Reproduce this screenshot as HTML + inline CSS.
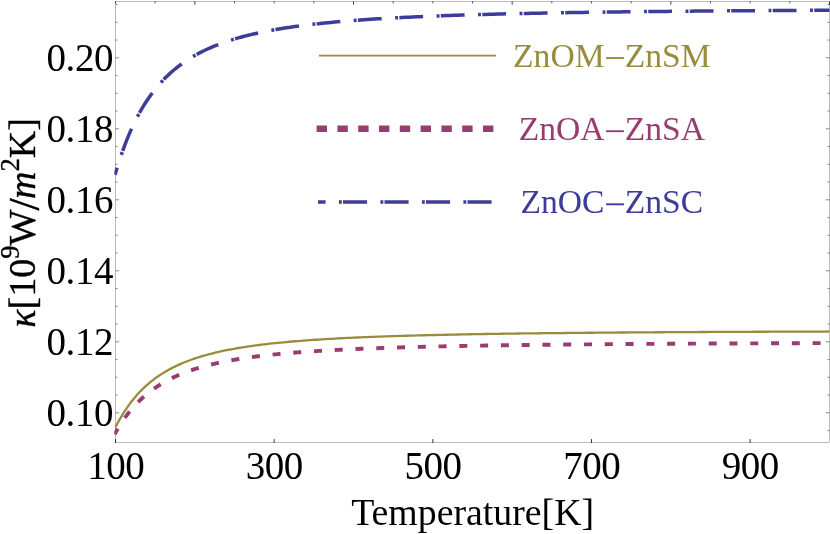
<!DOCTYPE html>
<html><head><meta charset="utf-8"><title>plot</title>
<style>
html,body{margin:0;padding:0;background:#fff;}
body{width:830px;height:534px;overflow:hidden;}
svg{display:block;font-family:"Liberation Serif",serif;will-change:transform;}
</style></head><body>
<svg width="830" height="534" viewBox="0 0 830 534">
<defs><clipPath id="cp"><rect x="114.3" y="1.5" width="716.4" height="441.0"/></clipPath></defs>
<rect width="830" height="534" fill="#fff"/>
<rect x="115.5" y="1.5" width="714.0" height="441.0" fill="none" stroke="#000" stroke-width="0.26"/>
<path d="M115.50,443.0 v-4 M274.17,443.0 v-4 M432.83,443.0 v-4 M591.50,443.0 v-4 M750.17,443.0 v-4 M115.50,1.5 v1.8 M155.17,1.5 v1.8 M194.83,1.5 v3.2 M234.50,1.5 v1.8 M274.17,1.5 v1.8 M313.83,1.5 v1.8 M353.50,1.5 v3.2 M393.17,1.5 v1.8 M432.83,1.5 v1.8 M472.50,1.5 v1.8 M512.17,1.5 v3.2 M551.83,1.5 v1.8 M591.50,1.5 v1.8 M631.17,1.5 v1.8 M670.83,1.5 v3.2 M710.50,1.5 v1.8 M750.17,1.5 v1.8 M789.83,1.5 v1.8 M829.50,1.5 v3.2" fill="none" stroke="#000" stroke-width="0.75"/>
<path d="M115.5,430.55 h2.0 M829.5,430.55 h-2.0 M115.5,412.80 h3.6 M829.5,412.80 h-3.6 M115.5,395.05 h2.0 M829.5,395.05 h-2.0 M115.5,377.30 h2.0 M829.5,377.30 h-2.0 M115.5,359.55 h2.0 M829.5,359.55 h-2.0 M115.5,341.80 h3.6 M829.5,341.80 h-3.6 M115.5,324.05 h2.0 M829.5,324.05 h-2.0 M115.5,306.30 h2.0 M829.5,306.30 h-2.0 M115.5,288.55 h2.0 M829.5,288.55 h-2.0 M115.5,270.80 h3.6 M829.5,270.80 h-3.6 M115.5,253.05 h2.0 M829.5,253.05 h-2.0 M115.5,235.30 h2.0 M829.5,235.30 h-2.0 M115.5,217.55 h2.0 M829.5,217.55 h-2.0 M115.5,199.80 h3.6 M829.5,199.80 h-3.6 M115.5,182.05 h2.0 M829.5,182.05 h-2.0 M115.5,164.30 h2.0 M829.5,164.30 h-2.0 M115.5,146.55 h2.0 M829.5,146.55 h-2.0 M115.5,128.80 h3.6 M829.5,128.80 h-3.6 M115.5,111.05 h2.0 M829.5,111.05 h-2.0 M115.5,93.30 h2.0 M829.5,93.30 h-2.0 M115.5,75.55 h2.0 M829.5,75.55 h-2.0 M115.5,57.80 h3.6 M829.5,57.80 h-3.6 M115.5,40.05 h2.0 M829.5,40.05 h-2.0 M115.5,22.30 h2.0 M829.5,22.30 h-2.0 M115.5,4.55 h2.0 M829.5,4.55 h-2.0" fill="none" stroke="#000" stroke-width="0.48"/>
<g clip-path="url(#cp)" fill="none">
<path d="M115.50,426.68 L115.54,426.61 L115.63,426.43 L115.77,426.15 L115.95,425.79 L116.18,425.36 L116.44,424.85 L116.74,424.27 L117.08,423.62 L117.45,422.92 L117.86,422.16 L118.30,421.35 L118.77,420.48 L119.28,419.57 L119.82,418.62 L120.39,417.62 L121.00,416.58 L121.63,415.52 L122.29,414.41 L122.99,413.28 L123.71,412.13 L124.47,410.95 L125.25,409.75 L126.06,408.53 L126.90,407.29 L127.77,406.04 L128.67,404.78 L129.59,403.52 L130.55,402.24 L131.53,400.96 L132.54,399.68 L133.57,398.40 L134.64,397.11 L135.73,395.83 L136.84,394.56 L137.99,393.29 L139.16,392.03 L140.35,390.77 L141.57,389.53 L142.82,388.29 L144.09,387.07 L145.39,385.86 L146.72,384.67 L148.07,383.48 L149.45,382.32 L150.85,381.17 L152.27,380.03 L153.73,378.92 L155.20,377.82 L156.70,376.73 L158.23,375.67 L159.78,374.62 L161.36,373.60 L162.95,372.59 L164.58,371.60 L166.23,370.63 L167.90,369.67 L169.59,368.74 L171.32,367.83 L173.06,366.93 L174.83,366.06 L176.62,365.20 L178.43,364.36 L180.27,363.54 L182.14,362.74 L184.02,361.95 L185.93,361.19 L187.86,360.44 L189.82,359.71 L191.80,358.99 L193.80,358.29 L195.82,357.61 L197.87,356.95 L199.94,356.30 L202.04,355.67 L204.15,355.05 L206.29,354.45 L208.45,353.86 L210.64,353.29 L212.84,352.73 L215.07,352.19 L217.33,351.66 L219.60,351.14 L221.90,350.63 L224.21,350.14 L226.55,349.66 L228.92,349.20 L231.30,348.74 L233.71,348.30 L236.14,347.87 L238.59,347.45 L241.06,347.04 L243.56,346.64 L246.07,346.25 L248.61,345.87 L251.17,345.50 L253.75,345.14 L256.35,344.79 L258.98,344.45 L261.63,344.11 L264.29,343.79 L266.98,343.47 L269.69,343.16 L272.42,342.86 L275.18,342.57 L277.95,342.29 L280.75,342.01 L283.56,341.74 L286.40,341.47 L289.26,341.22 L292.14,340.97 L295.04,340.72 L297.96,340.48 L300.91,340.25 L303.87,340.03 L306.85,339.80 L309.86,339.59 L312.89,339.38 L315.93,339.18 L319.00,338.98 L322.09,338.78 L325.20,338.59 L328.33,338.41 L331.48,338.23 L334.65,338.05 L337.84,337.88 L341.05,337.71 L344.29,337.55 L347.54,337.39 L350.81,337.23 L354.11,337.08 L357.42,336.94 L360.75,336.79 L364.11,336.65 L367.48,336.51 L370.88,336.38 L374.29,336.25 L377.73,336.12 L381.18,335.99 L384.66,335.87 L388.15,335.75 L391.67,335.64 L395.21,335.52 L398.76,335.41 L402.34,335.30 L405.93,335.20 L409.55,335.09 L413.18,334.99 L416.84,334.89 L420.51,334.80 L424.21,334.70 L427.92,334.61 L431.66,334.52 L435.41,334.43 L439.18,334.35 L442.98,334.26 L446.79,334.18 L450.62,334.10 L454.47,334.02 L458.34,333.94 L462.24,333.87 L466.15,333.80 L470.08,333.72 L474.03,333.65 L477.99,333.58 L481.98,333.52 L485.99,333.45 L490.02,333.39 L494.06,333.32 L498.13,333.26 L502.21,333.20 L506.32,333.14 L510.44,333.08 L514.58,333.03 L518.75,332.97 L522.93,332.92 L527.13,332.86 L531.35,332.81 L535.59,332.76 L539.84,332.71 L544.12,332.66 L548.42,332.61 L552.73,332.57 L557.06,332.52 L561.42,332.48 L565.79,332.43 L570.18,332.39 L574.59,332.35 L579.02,332.30 L583.46,332.26 L587.93,332.22 L592.42,332.18 L596.92,332.15 L601.44,332.11 L605.98,332.07 L610.54,332.04 L615.12,332.00 L619.72,331.97 L624.34,331.93 L628.97,331.90 L633.63,331.86 L638.30,331.83 L642.99,331.80 L647.70,331.77 L652.43,331.74 L657.18,331.71 L661.94,331.68 L666.72,331.65 L671.53,331.62 L676.35,331.60 L681.19,331.57 L686.05,331.54 L690.92,331.52 L695.82,331.49 L700.73,331.47 L705.66,331.44 L710.61,331.42 L715.58,331.39 L720.57,331.37 L725.57,331.35 L730.60,331.32 L735.64,331.30 L740.70,331.28 L745.78,331.26 L750.87,331.24 L755.99,331.22 L761.12,331.20 L766.27,331.18 L771.44,331.16 L776.63,331.14 L781.83,331.12 L787.06,331.10 L792.30,331.08 L797.56,331.06 L802.84,331.05 L808.13,331.03 L813.45,331.01 L818.78,330.99 L824.13,330.98 L829.50,330.96" stroke="#998c3d" stroke-width="2.3" transform="translate(0,0.55)"/>
<path d="M115.50,432.39 L115.54,432.32 L115.63,432.16 L115.77,431.91 L115.95,431.58 L116.18,431.19 L116.44,430.73 L116.74,430.21 L117.08,429.63 L117.45,428.99 L117.86,428.30 L118.30,427.57 L118.77,426.78 L119.28,425.96 L119.82,425.09 L120.39,424.19 L121.00,423.25 L121.63,422.28 L122.29,421.27 L122.99,420.25 L123.71,419.19 L124.47,418.12 L125.25,417.02 L126.06,415.91 L126.90,414.78 L127.77,413.64 L128.67,412.48 L129.59,411.32 L130.55,410.15 L131.53,408.98 L132.54,407.80 L133.57,406.62 L134.64,405.43 L135.73,404.25 L136.84,403.08 L137.99,401.90 L139.16,400.74 L140.35,399.58 L141.57,398.42 L142.82,397.28 L144.09,396.15 L145.39,395.02 L146.72,393.91 L148.07,392.81 L149.45,391.72 L150.85,390.65 L152.27,389.59 L153.73,388.55 L155.20,387.52 L156.70,386.51 L158.23,385.51 L159.78,384.53 L161.36,383.56 L162.95,382.62 L164.58,381.69 L166.23,380.77 L167.90,379.88 L169.59,379.00 L171.32,378.14 L173.06,377.29 L174.83,376.47 L176.62,375.66 L178.43,374.86 L180.27,374.09 L182.14,373.33 L184.02,372.58 L185.93,371.86 L187.86,371.15 L189.82,370.45 L191.80,369.77 L193.80,369.11 L195.82,368.46 L197.87,367.83 L199.94,367.21 L202.04,366.61 L204.15,366.02 L206.29,365.45 L208.45,364.89 L210.64,364.34 L212.84,363.81 L215.07,363.29 L217.33,362.78 L219.60,362.29 L221.90,361.81 L224.21,361.34 L226.55,360.88 L228.92,360.43 L231.30,359.99 L233.71,359.57 L236.14,359.16 L238.59,358.75 L241.06,358.36 L243.56,357.98 L246.07,357.60 L248.61,357.24 L251.17,356.88 L253.75,356.54 L256.35,356.20 L258.98,355.87 L261.63,355.55 L264.29,355.24 L266.98,354.93 L269.69,354.64 L272.42,354.35 L275.18,354.07 L277.95,353.79 L280.75,353.52 L283.56,353.26 L286.40,353.01 L289.26,352.76 L292.14,352.52 L295.04,352.28 L297.96,352.05 L300.91,351.83 L303.87,351.61 L306.85,351.40 L309.86,351.19 L312.89,350.99 L315.93,350.79 L319.00,350.60 L322.09,350.41 L325.20,350.23 L328.33,350.05 L331.48,349.87 L334.65,349.70 L337.84,349.54 L341.05,349.37 L344.29,349.22 L347.54,349.06 L350.81,348.91 L354.11,348.77 L357.42,348.62 L360.75,348.48 L364.11,348.35 L367.48,348.21 L370.88,348.08 L374.29,347.96 L377.73,347.83 L381.18,347.71 L384.66,347.59 L388.15,347.48 L391.67,347.36 L395.21,347.25 L398.76,347.15 L402.34,347.04 L405.93,346.94 L409.55,346.84 L413.18,346.74 L416.84,346.64 L420.51,346.55 L424.21,346.46 L427.92,346.37 L431.66,346.28 L435.41,346.20 L439.18,346.11 L442.98,346.03 L446.79,345.95 L450.62,345.87 L454.47,345.80 L458.34,345.72 L462.24,345.65 L466.15,345.58 L470.08,345.51 L474.03,345.44 L477.99,345.37 L481.98,345.31 L485.99,345.24 L490.02,345.18 L494.06,345.12 L498.13,345.06 L502.21,345.00 L506.32,344.94 L510.44,344.89 L514.58,344.83 L518.75,344.78 L522.93,344.73 L527.13,344.67 L531.35,344.62 L535.59,344.57 L539.84,344.53 L544.12,344.48 L548.42,344.43 L552.73,344.39 L557.06,344.34 L561.42,344.30 L565.79,344.25 L570.18,344.21 L574.59,344.17 L579.02,344.13 L583.46,344.09 L587.93,344.05 L592.42,344.01 L596.92,343.98 L601.44,343.94 L605.98,343.90 L610.54,343.87 L615.12,343.83 L619.72,343.80 L624.34,343.77 L628.97,343.73 L633.63,343.70 L638.30,343.67 L642.99,343.64 L647.70,343.61 L652.43,343.58 L657.18,343.55 L661.94,343.52 L666.72,343.50 L671.53,343.47 L676.35,343.44 L681.19,343.41 L686.05,343.39 L690.92,343.36 L695.82,343.34 L700.73,343.31 L705.66,343.29 L710.61,343.27 L715.58,343.24 L720.57,343.22 L725.57,343.20 L730.60,343.18 L735.64,343.15 L740.70,343.13 L745.78,343.11 L750.87,343.09 L755.99,343.07 L761.12,343.05 L766.27,343.03 L771.44,343.01 L776.63,342.99 L781.83,342.98 L787.06,342.96 L792.30,342.94 L797.56,342.92 L802.84,342.91 L808.13,342.89 L813.45,342.87 L818.78,342.86 L824.13,342.84 L829.50,342.82" transform="translate(0,0.3)" stroke="#993d71" stroke-width="3.9" stroke-dasharray="4.1 16.68" stroke-dashoffset="1.4" stroke-linecap="square"/>
<path d="M115.10,174.72 L115.14,174.59 L115.23,174.27 L115.37,173.78 L115.55,173.15 L115.78,172.38 L116.04,171.48 L116.34,170.46 L116.68,169.33 L117.05,168.10 L117.46,166.76 L117.90,165.33 L118.38,163.81 L118.88,162.21 L119.42,160.53 L120.00,158.78 L120.60,156.97 L121.23,155.10 L121.90,153.17 L122.59,151.19 L123.32,149.17 L124.07,147.10 L124.85,145.00 L125.67,142.87 L126.51,140.72 L127.38,138.54 L128.28,136.34 L129.20,134.13 L130.16,131.91 L131.14,129.69 L132.15,127.46 L133.18,125.23 L134.25,123.00 L135.34,120.78 L136.45,118.57 L137.60,116.37 L138.77,114.18 L139.96,112.01 L141.19,109.86 L142.44,107.72 L143.71,105.61 L145.01,103.52 L146.34,101.46 L147.69,99.42 L149.07,97.41 L150.47,95.43 L151.90,93.48 L153.35,91.56 L154.82,89.67 L156.33,87.81 L157.85,85.98 L159.40,84.18 L160.98,82.42 L162.58,80.69 L164.21,79.00 L165.85,77.33 L167.53,75.71 L169.23,74.11 L170.95,72.55 L172.69,71.02 L174.46,69.52 L176.25,68.06 L178.07,66.62 L179.91,65.23 L181.77,63.86 L183.66,62.52 L185.57,61.22 L187.50,59.94 L189.46,58.70 L191.44,57.48 L193.44,56.30 L195.47,55.14 L197.52,54.01 L199.59,52.91 L201.68,51.84 L203.80,50.79 L205.94,49.77 L208.11,48.77 L210.29,47.80 L212.50,46.85 L214.73,45.93 L216.98,45.03 L219.26,44.16 L221.55,43.30 L223.87,42.47 L226.22,41.66 L228.58,40.87 L230.97,40.10 L233.38,39.36 L235.81,38.63 L238.26,37.92 L240.73,37.22 L243.23,36.55 L245.75,35.89 L248.29,35.25 L250.85,34.63 L253.43,34.02 L256.03,33.43 L258.66,32.85 L261.31,32.29 L263.98,31.74 L266.67,31.21 L269.38,30.69 L272.11,30.19 L274.87,29.69 L277.64,29.21 L280.44,28.75 L283.26,28.29 L286.10,27.85 L288.96,27.42 L291.84,26.99 L294.74,26.58 L297.67,26.18 L300.61,25.79 L303.58,25.41 L306.56,25.04 L309.57,24.68 L312.60,24.33 L315.65,23.98 L318.71,23.65 L321.81,23.32 L324.92,23.01 L328.05,22.70 L331.20,22.39 L334.37,22.10 L337.57,21.81 L340.78,21.53 L344.01,21.25 L347.27,20.99 L350.54,20.73 L353.84,20.47 L357.15,20.22 L360.49,19.98 L363.85,19.75 L367.22,19.52 L370.62,19.29 L374.04,19.07 L377.47,18.86 L380.93,18.65 L384.41,18.44 L387.91,18.24 L391.42,18.05 L394.96,17.86 L398.52,17.67 L402.10,17.49 L405.69,17.31 L409.31,17.14 L412.95,16.97 L416.61,16.80 L420.28,16.64 L423.98,16.48 L427.70,16.33 L431.43,16.18 L435.19,16.03 L438.96,15.89 L442.76,15.75 L446.57,15.61 L450.41,15.48 L454.26,15.34 L458.14,15.21 L462.03,15.09 L465.94,14.97 L469.87,14.85 L473.83,14.73 L477.80,14.61 L481.79,14.50 L485.80,14.39 L489.83,14.28 L493.88,14.18 L497.94,14.07 L502.03,13.97 L506.14,13.87 L510.26,13.78 L514.41,13.68 L518.57,13.59 L522.76,13.50 L526.96,13.41 L531.18,13.32 L535.42,13.24 L539.68,13.15 L543.96,13.07 L548.26,12.99 L552.58,12.91 L556.91,12.83 L561.27,12.76 L565.64,12.69 L570.03,12.61 L574.45,12.54 L578.88,12.47 L583.33,12.40 L587.80,12.34 L592.28,12.27 L596.79,12.21 L601.32,12.15 L605.86,12.08 L610.42,12.02 L615.00,11.96 L619.60,11.91 L624.22,11.85 L628.86,11.79 L633.52,11.74 L638.19,11.68 L642.89,11.63 L647.60,11.58 L652.33,11.53 L657.08,11.48 L661.85,11.43 L666.63,11.38 L671.44,11.34 L676.26,11.29 L681.10,11.24 L685.97,11.20 L690.84,11.16 L695.74,11.11 L700.66,11.07 L705.59,11.03 L710.55,10.99 L715.52,10.95 L720.51,10.91 L725.51,10.87 L730.54,10.83 L735.59,10.80 L740.65,10.76 L745.73,10.73 L750.83,10.69 L755.95,10.66 L761.08,10.62 L766.24,10.59 L771.41,10.56 L776.60,10.52 L781.81,10.49 L787.03,10.46 L792.28,10.43 L797.54,10.40 L802.82,10.37 L808.12,10.34 L813.44,10.31 L818.78,10.29 L824.13,10.26 L829.50,10.23" stroke="#3d3d99" stroke-width="3.5" stroke-dasharray="2.9 1.3 23.8 13.5" stroke-dashoffset="20.66"/>
</g>
<path d="M318.9,55.7 H496" stroke="#998c3d" stroke-width="1.8" fill="none"/>
<path d="M316.6,128.8 H494" stroke="#993d71" stroke-width="6.6" stroke-dasharray="10.4 10.4" fill="none"/>
<path d="M318,202 H493" stroke="#3d3d99" stroke-width="3.6" stroke-dasharray="2.9 1.2 24.1 13.3" stroke-dashoffset="20.6" fill="none"/>
<text y="66.6" font-size="33.6" fill="#998c3d"><tspan x="604.5" text-anchor="end">ZnOM</tspan><tspan x="624.8">ZnSM</tspan></text><rect x="606.1" y="57.05" width="17.8" height="1.9" fill="#998c3d"/>
<text y="139.8" font-size="33.6" fill="#993d71"><tspan x="604.5" text-anchor="end">ZnOA</tspan><tspan x="624.8">ZnSA</tspan></text><rect x="606.1" y="130.25" width="17.8" height="1.9" fill="#993d71"/>
<text y="212.9" font-size="33.6" fill="#3d3d99"><tspan x="604.5" text-anchor="end">ZnOC</tspan><tspan x="624.8">ZnSC</tspan></text><rect x="606.1" y="203.35" width="17.8" height="1.9" fill="#3d3d99"/>
<text x="113.0" y="426.00" font-size="39" letter-spacing="-0.45" text-anchor="end">0.10</text>
<text x="113.0" y="355.00" font-size="39" letter-spacing="-0.45" text-anchor="end">0.12</text>
<text x="113.0" y="284.00" font-size="39" letter-spacing="-0.45" text-anchor="end">0.14</text>
<text x="113.0" y="213.00" font-size="39" letter-spacing="-0.45" text-anchor="end">0.16</text>
<text x="113.0" y="142.00" font-size="39" letter-spacing="-0.45" text-anchor="end">0.18</text>
<text x="113.0" y="71.00" font-size="39" letter-spacing="-0.45" text-anchor="end">0.20</text>
<text x="115.70" y="479.3" font-size="39" letter-spacing="-0.5" text-anchor="middle">100</text>
<text x="274.37" y="479.3" font-size="39" letter-spacing="-0.5" text-anchor="middle">300</text>
<text x="433.03" y="479.3" font-size="39" letter-spacing="-0.5" text-anchor="middle">500</text>
<text x="591.70" y="479.3" font-size="39" letter-spacing="-0.5" text-anchor="middle">700</text>
<text x="750.37" y="479.3" font-size="39" letter-spacing="-0.5" text-anchor="middle">900</text>
<text x="472.6" y="524.9" font-size="37.8" text-anchor="middle">Temperature[K]</text>
<text transform="translate(34.8,222.9) rotate(-90)" font-size="38" text-anchor="middle" stroke="#000" stroke-width="0.35"><tspan font-style="italic">κ</tspan>[10<tspan dy="-15.6" font-size="26.5">9</tspan><tspan dy="15.6">W</tspan><tspan font-size="44" dy="4" dx="-0.8">/</tspan><tspan font-style="italic" dy="-4" dx="-0.8">m</tspan><tspan dy="-15.6" font-size="26.5">2</tspan><tspan dy="15.6">K]</tspan></text>
</svg>
</body></html>
